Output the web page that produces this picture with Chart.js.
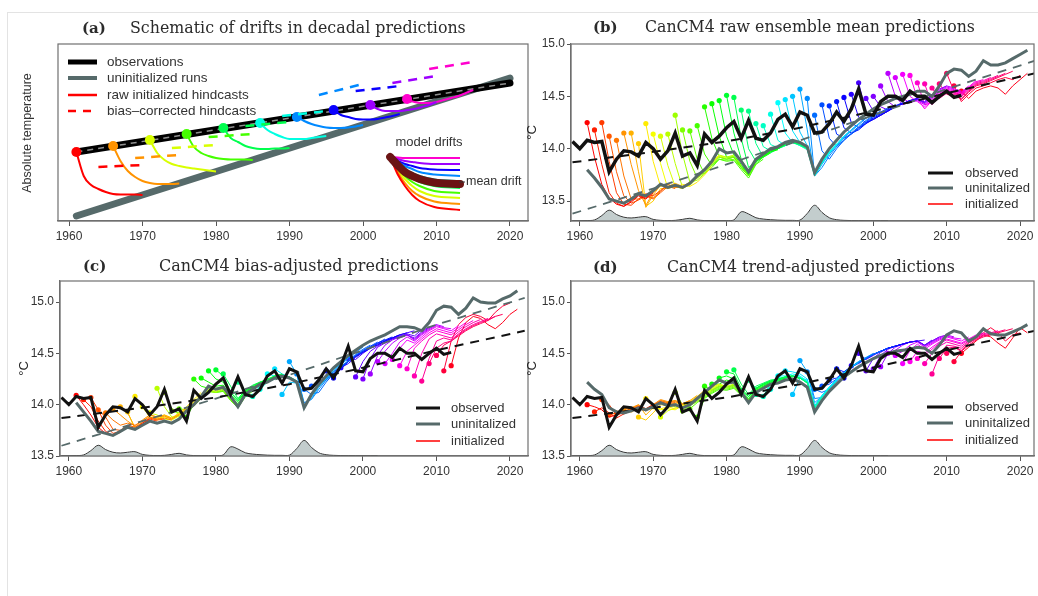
<!DOCTYPE html>
<html>
<head>
<meta charset="utf-8">
<title>CanCM4 decadal prediction drifts</title>
<script src="https://cdn.jsdelivr.net/npm/chart.js@4.4.1/dist/chart.umd.min.js"></script>
<style>
html, body { margin: 0; padding: 0; background: #fff; }
#fig { position: relative; width: 1038px; height: 596px; overflow: hidden; }
#fig canvas { position: absolute; }
#frame { position: absolute; left: 7px; top: 12px; right: -2px; bottom: -2px;
  border-left: 1px solid #e3e3e3; border-top: 1px solid #e3e3e3; }
</style>
</head>
<body>
<div id="fig">
  <div id="frame"></div>
  <canvas id="pa" width="540" height="251" style="left:0;top:0"></canvas>
  <canvas id="pb" width="518" height="251" style="left:520px;top:0"></canvas>
  <canvas id="pc" width="540" height="236" style="left:0;top:250px"></canvas>
  <canvas id="pd" width="518" height="236" style="left:520px;top:250px"></canvas>
</div>
<script>
// ---- panel (a): schematic, arbitrary temperature units ----
const schemEnds = [1961, 2020];
const schemObs = [69, 138];
const schemUninit = [5, 143];
const schemStarts = [1961, 1966, 1971, 1976, 1981, 1986, 1991, 1996, 2001, 2006];
const schemRaw = [
  [69, 45, 36, 32, 29, 27, 26.5, 26.5, 26.5, 26],
  [75, 60, 50, 44, 40, 38, 37, 37, 37, 37.5],
  [81, 68, 61, 57, 55, 53.5, 52.5, 51.5, 50.5, 49.5],
  [87, 74, 68, 65, 63, 62, 61.5, 61.5, 61.5, 61],
  [93, 83, 79, 75, 73, 72, 72, 72.5, 72.5, 73],
  [98, 91, 87, 84, 82, 82, 82, 83, 84, 85],
  [104, 100, 97, 95, 93.5, 93, 93, 93.5, 94.5, 96],
  [111, 106, 104, 102, 101.5, 101.5, 102, 103.5, 105, 107],
  [116, 112, 110, 110, 110, 111, 112, 114, 116, 119],
  [122, 119, 118, 118, 119, 121, 123, 125, 128, 131]
];
const schemCorrYears = [[1964, 1970], [1969, 1975], [1974, 1980], [1979, 1985], [1984, 1990],
  [1989, 1995], [1994, 2000], [1999, 2005], [2004, 2010], [2009, 2015]];
const schemCorr = [[54, 56], [63, 66], [73, 76], [84, 87], [95, 99],
  [105, 110], [126, 137], [130, 135], [138, 145], [152, 159]];
const driftYears = [2003.7, 2004.7, 2005.7, 2006.7, 2007.7, 2009.7, 2013.2];
const driftCurves = [
  [64, 47, 35, 26, 20, 14, 11],
  [64, 49, 38, 30, 25, 19.5, 17],
  [64, 51, 42, 35, 30, 25, 23],
  [64, 53, 45, 39, 35, 30, 28],
  [64, 55, 48, 43, 39, 35, 33],
  [64, 57, 52, 48, 45, 41.5, 40],
  [64, 59, 55, 52, 49, 46.5, 45],
  [64, 60, 57, 55, 53, 51.5, 51],
  [64, 62, 60, 59, 58, 57, 57],
  [64, 63.5, 63, 63, 63, 63, 63]
];
const meanDrift = [64, 56, 49, 45, 42, 38.5, 37];

// ---- panels (b)-(d): global mean temperature, deg C ----
const obsStart = 1959;
const observed = [14.07, 14.00, 14.08, 14.06, 14.07, 13.78, 13.90, 13.98, 13.97, 13.93,
  14.06, 14.00, 13.90, 13.98, 14.15, 13.93, 13.96, 13.84, 14.14, 14.06,
  14.12, 14.20, 14.26, 14.10, 14.27, 14.10, 14.08, 14.15, 14.28, 14.33,
  14.21, 14.35, 14.32, 14.15, 14.16, 14.24, 14.35, 14.26, 14.38, 14.57,
  14.33, 14.32, 14.45, 14.50, 14.50, 14.46, 14.55, 14.50, 14.50, 14.44,
  14.50, 14.55, 14.49, 14.51];

const uninitStart = 1961;
const uninitRaw = [13.80, 13.72, 13.63, 13.52, 13.50, 13.48, 13.52, 13.57, 13.55, 13.60,
  13.66, 13.63, 13.65, 13.63, 13.67, 13.74, 13.80, 13.88, 14.00, 13.96,
  13.97, 13.88, 13.78, 13.90, 13.95, 14.00, 14.02, 14.06, 14.08, 14.06,
  14.02, 13.77, 13.90, 14.00, 14.08, 14.16, 14.22, 14.28, 14.33, 14.38,
  14.42, 14.45, 14.48, 14.50, 14.52, 14.55, 14.55, 14.50, 14.60, 14.72,
  14.76, 14.75, 14.69, 14.74, 14.84, 14.80, 14.80, 14.82, 14.86, 14.90, 14.94];
const uninitBias = [14.02, 13.93, 13.84, 13.74, 13.72, 13.70, 13.74, 13.78, 13.76, 13.80,
  13.84, 13.82, 13.84, 13.82, 13.86, 13.94, 14.00, 14.08, 14.18, 14.15,
  14.17, 14.08, 13.98, 14.10, 14.15, 14.20, 14.22, 14.26, 14.28, 14.26,
  14.22, 13.97, 14.10, 14.20, 14.28, 14.36, 14.42, 14.48, 14.53, 14.58,
  14.62, 14.65, 14.68, 14.72, 14.76, 14.76, 14.75, 14.72, 14.80, 14.92,
  14.96, 14.95, 14.88, 14.94, 15.04, 15.00, 14.99, 14.99, 15.03, 15.06, 15.11];
const uninitTrend = [14.22, 14.15, 14.10, 13.97, 13.93, 13.92, 13.94, 13.97, 13.95, 13.98,
  14.02, 13.99, 14.00, 13.97, 14.00, 14.06, 14.12, 14.18, 14.24, 14.21,
  14.22, 14.12, 14.02, 14.12, 14.16, 14.20, 14.21, 14.24, 14.25, 14.22,
  14.17, 13.93, 14.04, 14.13, 14.20, 14.27, 14.32, 14.37, 14.41, 14.45,
  14.48, 14.50, 14.52, 14.53, 14.54, 14.56, 14.55, 14.50, 14.58, 14.68,
  14.72, 14.70, 14.62, 14.66, 14.74, 14.69, 14.68, 14.68, 14.71, 14.74, 14.78];

// fitted trends
const trendYears = [1959, 1970, 1980, 1990, 2000, 2010, 2022];
const obsTrend = [13.87, 13.97, 14.07, 14.20, 14.36, 14.53, 14.72];
const uninitTrendRaw = [13.38, 13.62, 13.85, 14.08, 14.32, 14.57, 14.84];
const uninitTrendBias = [13.60, 13.84, 14.06, 14.29, 14.53, 14.78, 15.04];

// stratospheric aerosol optical depth
const aodStart = 1959;
const aod = [0.002, 0.002, 0.004, 0.010, 0.050, 0.100, 0.060, 0.035, 0.028, 0.035,
  0.040, 0.015, 0.006, 0.004, 0.006, 0.015, 0.025, 0.010, 0.004, 0.003,
  0.003, 0.004, 0.010, 0.085, 0.065, 0.030, 0.018, 0.012, 0.008, 0.006,
  0.006, 0.008, 0.070, 0.145, 0.080, 0.030, 0.012, 0.006, 0.004, 0.003,
  0.002, 0.002, 0.002, 0.002];

// hindcasts, one per start year 1961-2012, 10 annual values each
const hindFirst = 1961, hindCount = 52;
const rawHind = [
  [14.25, 13.92, 13.66, 13.53, 13.47, 13.45, 13.49, 13.55, 13.52, 13.58],
  [14.18, 13.85, 13.58, 13.48, 13.45, 13.50, 13.56, 13.53, 13.59, 13.65],
  [14.25, 13.88, 13.58, 13.47, 13.46, 13.52, 13.57, 13.55, 13.60, 13.66],
  [14.12, 13.78, 13.55, 13.48, 13.51, 13.55, 13.52, 13.58, 13.64, 13.62],
  [14.08, 13.74, 13.52, 13.52, 13.56, 13.53, 13.59, 13.66, 13.63, 13.64],
  [14.15, 13.85, 13.60, 13.46, 13.58, 13.66, 13.63, 13.66, 13.63, 13.68],
  [14.15, 13.78, 13.44, 13.56, 13.65, 13.64, 13.67, 13.64, 13.68, 13.75],
  [14.05, 13.45, 13.50, 13.62, 13.62, 13.65, 13.63, 13.67, 13.73, 13.80],
  [14.24, 13.88, 13.64, 13.66, 13.63, 13.66, 13.64, 13.68, 13.75, 13.83],
  [14.14, 13.86, 13.62, 13.64, 13.62, 13.67, 13.72, 13.80, 13.88, 13.94],
  [14.12, 13.84, 13.64, 13.62, 13.66, 13.73, 13.80, 13.87, 13.93, 13.92],
  [14.14, 13.86, 13.63, 13.65, 13.72, 13.78, 13.86, 13.94, 13.92, 13.94],
  [14.32, 13.95, 13.68, 13.70, 13.76, 13.85, 13.92, 13.91, 13.93, 13.84],
  [14.18, 13.88, 13.72, 13.77, 13.84, 13.92, 13.90, 13.92, 13.83, 13.74],
  [14.17, 13.90, 13.76, 13.82, 13.90, 13.89, 13.90, 13.82, 13.74, 13.86],
  [14.22, 13.95, 13.84, 13.90, 13.88, 13.89, 13.80, 13.72, 13.85, 13.90],
  [14.40, 14.10, 13.92, 13.90, 13.92, 13.82, 13.74, 13.86, 13.92, 13.96],
  [14.43, 14.12, 13.92, 13.92, 13.84, 13.75, 13.88, 13.93, 13.97, 13.99],
  [14.46, 14.12, 13.94, 13.85, 13.76, 13.88, 13.93, 13.98, 14.00, 14.04],
  [14.51, 14.15, 13.90, 13.78, 13.88, 13.93, 13.98, 14.00, 14.05, 14.07],
  [14.49, 14.10, 13.82, 13.88, 13.92, 13.97, 14.00, 14.05, 14.06, 14.05],
  [14.37, 14.00, 13.88, 13.92, 13.97, 14.00, 14.04, 14.06, 14.04, 14.00],
  [14.36, 14.05, 13.92, 13.96, 14.00, 14.03, 14.06, 14.04, 14.01, 13.76],
  [14.24, 14.02, 13.98, 14.00, 14.03, 14.06, 14.03, 14.00, 13.75, 13.88],
  [14.22, 14.04, 14.01, 14.03, 14.06, 14.03, 13.99, 13.74, 13.87, 13.98],
  [14.33, 14.08, 14.03, 14.06, 14.04, 14.00, 13.75, 13.87, 13.97, 14.05],
  [14.44, 14.15, 14.06, 14.05, 14.01, 13.76, 13.86, 13.96, 14.04, 14.12],
  [14.47, 14.17, 14.06, 14.02, 13.76, 13.87, 13.96, 14.04, 14.12, 14.18],
  [14.50, 14.16, 14.03, 13.78, 13.86, 13.96, 14.04, 14.12, 14.18, 14.24],
  [14.57, 14.18, 13.74, 13.85, 13.95, 14.03, 14.11, 14.18, 14.24, 14.30],
  [14.48, 13.74, 13.82, 13.93, 14.02, 14.10, 14.17, 14.23, 14.29, 14.34],
  [14.32, 13.98, 13.90, 14.00, 14.08, 14.15, 14.21, 14.27, 14.32, 14.36],
  [14.42, 14.10, 14.02, 14.08, 14.14, 14.20, 14.26, 14.31, 14.35, 14.39],
  [14.41, 14.14, 14.10, 14.14, 14.19, 14.25, 14.30, 14.34, 14.38, 14.42],
  [14.45, 14.20, 14.15, 14.18, 14.24, 14.29, 14.33, 14.37, 14.41, 14.44],
  [14.49, 14.25, 14.20, 14.24, 14.28, 14.32, 14.36, 14.40, 14.43, 14.46],
  [14.52, 14.30, 14.25, 14.28, 14.32, 14.36, 14.40, 14.43, 14.46, 14.48],
  [14.63, 14.35, 14.28, 14.32, 14.36, 14.40, 14.43, 14.46, 14.48, 14.50],
  [14.48, 14.36, 14.32, 14.36, 14.40, 14.43, 14.45, 14.47, 14.45, 14.52],
  [14.50, 14.40, 14.37, 14.40, 14.43, 14.45, 14.47, 14.44, 14.51, 14.58],
  [14.60, 14.45, 14.40, 14.43, 14.46, 14.48, 14.44, 14.50, 14.57, 14.60],
  [14.72, 14.50, 14.42, 14.45, 14.47, 14.43, 14.49, 14.56, 14.60, 14.58],
  [14.68, 14.48, 14.44, 14.46, 14.42, 14.48, 14.55, 14.59, 14.57, 14.55],
  [14.71, 14.50, 14.45, 14.40, 14.47, 14.54, 14.58, 14.56, 14.54, 14.60],
  [14.70, 14.48, 14.38, 14.46, 14.53, 14.57, 14.55, 14.53, 14.59, 14.65],
  [14.63, 14.42, 14.44, 14.52, 14.56, 14.54, 14.52, 14.58, 14.64, 14.66],
  [14.62, 14.42, 14.50, 14.55, 14.53, 14.51, 14.57, 14.63, 14.65, 14.68],
  [14.58, 14.48, 14.53, 14.52, 14.50, 14.56, 14.62, 14.64, 14.67, 14.70],
  [14.62, 14.52, 14.50, 14.48, 14.55, 14.61, 14.63, 14.66, 14.69, 14.72],
  [14.72, 14.55, 14.47, 14.54, 14.60, 14.62, 14.65, 14.68, 14.71, 14.74],
  [14.60, 14.45, 14.52, 14.58, 14.60, 14.63, 14.66, 14.68, 14.66, 14.70],
  [14.55, 14.48, 14.55, 14.58, 14.60, 14.58, 14.52, 14.60, 14.66, 14.72]
];
const biasHind = [
  [14.09, 14.00, 13.90, 13.78, 13.72, 13.70, 13.74, 13.79, 13.76, 13.81],
  [14.05, 13.98, 13.84, 13.74, 13.70, 13.73, 13.79, 13.76, 13.82, 13.86],
  [14.07, 13.95, 13.80, 13.72, 13.74, 13.78, 13.76, 13.80, 13.86, 13.84],
  [13.95, 13.88, 13.76, 13.75, 13.80, 13.78, 13.82, 13.87, 13.85, 13.86],
  [13.92, 13.85, 13.80, 13.82, 13.80, 13.84, 13.88, 13.86, 13.87, 13.85],
  [13.96, 13.90, 13.84, 13.79, 13.85, 13.90, 13.88, 13.89, 13.86, 13.90],
  [13.98, 13.92, 13.78, 13.83, 13.90, 13.88, 13.90, 13.87, 13.91, 13.97],
  [13.93, 13.76, 13.80, 13.87, 13.86, 13.89, 13.86, 13.90, 13.96, 14.03],
  [14.08, 13.98, 13.88, 13.87, 13.90, 13.87, 13.92, 13.98, 14.05, 14.12],
  [13.98, 13.92, 13.85, 13.88, 13.86, 13.90, 13.96, 14.03, 14.10, 14.16],
  [13.92, 13.90, 13.86, 13.85, 13.89, 13.95, 14.02, 14.08, 14.15, 14.14],
  [14.16, 13.98, 13.88, 13.89, 13.94, 14.00, 14.07, 14.14, 14.13, 14.16],
  [14.12, 13.96, 13.90, 13.93, 13.99, 14.06, 14.13, 14.12, 14.15, 14.06],
  [13.94, 13.92, 13.94, 13.99, 14.06, 14.13, 14.12, 14.14, 14.05, 13.97],
  [13.96, 13.95, 13.99, 14.06, 14.13, 14.12, 14.13, 14.05, 13.97, 14.08],
  [13.88, 14.00, 14.07, 14.14, 14.12, 14.13, 14.04, 13.97, 14.08, 14.13],
  [14.25, 14.18, 14.16, 14.16, 14.16, 14.06, 13.99, 14.10, 14.15, 14.19],
  [14.26, 14.22, 14.18, 14.19, 14.08, 14.01, 14.12, 14.16, 14.20, 14.22],
  [14.33, 14.25, 14.22, 14.10, 14.03, 14.13, 14.17, 14.21, 14.23, 14.27],
  [14.34, 14.28, 14.12, 14.05, 14.14, 14.18, 14.22, 14.24, 14.28, 14.30],
  [14.30, 14.18, 14.06, 14.14, 14.19, 14.22, 14.25, 14.28, 14.29, 14.27],
  [14.12, 14.04, 14.12, 14.17, 14.21, 14.24, 14.27, 14.29, 14.27, 14.23],
  [14.22, 14.14, 14.17, 14.21, 14.24, 14.27, 14.29, 14.27, 14.23, 13.99],
  [14.10, 14.15, 14.19, 14.23, 14.26, 14.28, 14.26, 14.23, 13.98, 14.10],
  [14.08, 14.18, 14.22, 14.25, 14.28, 14.26, 14.22, 13.97, 14.09, 14.19],
  [14.15, 14.22, 14.25, 14.28, 14.26, 14.22, 13.98, 14.09, 14.19, 14.27],
  [14.30, 14.28, 14.29, 14.27, 14.23, 13.98, 14.10, 14.20, 14.28, 14.35],
  [14.35, 14.30, 14.27, 14.22, 13.97, 14.09, 14.19, 14.27, 14.35, 14.41],
  [14.10, 14.22, 14.21, 13.98, 14.08, 14.18, 14.26, 14.34, 14.40, 14.46],
  [14.42, 14.30, 14.00, 14.06, 14.17, 14.25, 14.33, 14.40, 14.46, 14.52],
  [14.30, 14.02, 14.05, 14.15, 14.24, 14.32, 14.39, 14.45, 14.51, 14.56],
  [14.15, 14.10, 14.12, 14.22, 14.30, 14.37, 14.43, 14.49, 14.54, 14.58],
  [14.18, 14.20, 14.24, 14.30, 14.36, 14.42, 14.48, 14.53, 14.57, 14.61],
  [14.22, 14.26, 14.32, 14.37, 14.42, 14.48, 14.52, 14.56, 14.60, 14.64],
  [14.33, 14.30, 14.36, 14.42, 14.47, 14.52, 14.56, 14.60, 14.63, 14.66],
  [14.26, 14.35, 14.42, 14.47, 14.51, 14.55, 14.59, 14.62, 14.65, 14.68],
  [14.36, 14.40, 14.46, 14.51, 14.55, 14.58, 14.62, 14.65, 14.68, 14.70],
  [14.45, 14.44, 14.50, 14.55, 14.58, 14.62, 14.65, 14.68, 14.70, 14.72],
  [14.27, 14.42, 14.52, 14.57, 14.61, 14.64, 14.67, 14.69, 14.67, 14.73],
  [14.25, 14.45, 14.56, 14.60, 14.64, 14.66, 14.68, 14.65, 14.71, 14.76],
  [14.30, 14.48, 14.58, 14.63, 14.66, 14.68, 14.64, 14.70, 14.75, 14.78],
  [14.42, 14.52, 14.60, 14.65, 14.68, 14.63, 14.69, 14.74, 14.78, 14.76],
  [14.40, 14.50, 14.61, 14.66, 14.62, 14.68, 14.73, 14.77, 14.75, 14.74],
  [14.44, 14.55, 14.63, 14.60, 14.66, 14.72, 14.76, 14.74, 14.72, 14.77],
  [14.38, 14.52, 14.58, 14.64, 14.70, 14.74, 14.72, 14.70, 14.75, 14.80],
  [14.35, 14.55, 14.62, 14.68, 14.72, 14.70, 14.68, 14.73, 14.78, 14.82],
  [14.28, 14.50, 14.64, 14.69, 14.67, 14.65, 14.71, 14.76, 14.80, 14.83],
  [14.23, 14.45, 14.62, 14.65, 14.63, 14.69, 14.74, 14.78, 14.81, 14.84],
  [14.40, 14.55, 14.60, 14.62, 14.68, 14.73, 14.77, 14.80, 14.83, 14.86],
  [14.48, 14.58, 14.62, 14.67, 14.72, 14.76, 14.79, 14.82, 14.86, 14.88],
  [14.33, 14.62, 14.78, 14.85, 14.88, 14.86, 14.82, 14.90, 14.96, 14.99],
  [14.38, 14.65, 14.80, 14.86, 14.84, 14.78, 14.74, 14.80, 14.88, 14.93]
];
const trendHind = [
  [14.00, 13.98, 13.95, 13.88, 13.90, 13.93, 13.95, 13.98, 13.96, 14.00],
  [13.93, 13.97, 13.92, 13.87, 13.91, 13.94, 13.97, 13.95, 13.99, 14.03],
  [14.05, 14.00, 13.90, 13.92, 13.95, 13.97, 13.94, 13.98, 14.02, 14.00],
  [13.90, 13.92, 13.91, 13.95, 13.98, 13.95, 13.99, 14.03, 14.01, 14.02],
  [13.92, 13.94, 13.96, 13.99, 13.96, 14.00, 14.04, 14.02, 14.03, 14.00],
  [13.96, 13.97, 14.00, 13.95, 14.00, 14.05, 14.03, 14.04, 14.01, 14.04],
  [13.95, 14.00, 13.90, 13.97, 14.04, 14.02, 14.04, 14.01, 14.04, 14.09],
  [13.88, 13.85, 13.92, 14.00, 13.99, 14.02, 14.00, 14.03, 14.08, 14.14],
  [14.06, 13.98, 13.96, 13.98, 13.96, 14.00, 14.02, 14.07, 14.13, 14.18],
  [13.98, 13.95, 13.96, 13.95, 13.99, 14.02, 14.07, 14.12, 14.17, 14.20],
  [13.88, 13.94, 13.97, 13.98, 14.02, 14.06, 14.11, 14.16, 14.20, 14.18],
  [14.00, 13.98, 13.97, 14.01, 14.05, 14.10, 14.15, 14.19, 14.18, 14.20],
  [14.12, 14.00, 14.00, 14.04, 14.09, 14.14, 14.18, 14.17, 14.19, 14.12],
  [13.94, 13.99, 14.03, 14.08, 14.13, 14.17, 14.16, 14.18, 14.11, 14.05],
  [13.96, 14.02, 14.07, 14.12, 14.16, 14.15, 14.17, 14.10, 14.04, 14.13],
  [13.88, 14.06, 14.11, 14.15, 14.14, 14.16, 14.09, 14.03, 14.12, 14.16],
  [14.18, 14.14, 14.18, 14.17, 14.19, 14.10, 14.04, 14.13, 14.17, 14.20],
  [14.20, 14.20, 14.24, 14.22, 14.12, 14.05, 14.14, 14.18, 14.21, 14.22],
  [14.26, 14.28, 14.25, 14.14, 14.06, 14.15, 14.19, 14.22, 14.23, 14.25],
  [14.32, 14.30, 14.16, 14.08, 14.16, 14.20, 14.23, 14.24, 14.26, 14.27],
  [14.34, 14.20, 14.10, 14.18, 14.21, 14.24, 14.25, 14.27, 14.28, 14.25],
  [14.14, 14.08, 14.16, 14.20, 14.23, 14.25, 14.27, 14.28, 14.26, 14.21],
  [14.24, 14.16, 14.20, 14.23, 14.25, 14.27, 14.28, 14.26, 14.22, 13.98],
  [14.10, 14.18, 14.22, 14.25, 14.27, 14.28, 14.26, 14.22, 13.97, 14.08],
  [14.08, 14.21, 14.24, 14.26, 14.28, 14.26, 14.21, 13.96, 14.07, 14.16],
  [14.15, 14.24, 14.26, 14.28, 14.27, 14.22, 13.97, 14.07, 14.16, 14.23],
  [14.28, 14.28, 14.30, 14.28, 14.23, 13.98, 14.08, 14.17, 14.24, 14.30],
  [14.33, 14.32, 14.30, 14.25, 13.98, 14.09, 14.17, 14.24, 14.31, 14.36],
  [14.10, 14.26, 14.24, 13.99, 14.09, 14.17, 14.25, 14.31, 14.37, 14.41],
  [14.43, 14.32, 14.02, 14.08, 14.17, 14.24, 14.31, 14.37, 14.42, 14.46],
  [14.32, 14.06, 14.07, 14.16, 14.24, 14.31, 14.37, 14.42, 14.46, 14.50],
  [14.15, 14.12, 14.15, 14.23, 14.30, 14.36, 14.41, 14.45, 14.49, 14.52],
  [14.18, 14.20, 14.25, 14.31, 14.36, 14.41, 14.45, 14.49, 14.52, 14.55],
  [14.24, 14.26, 14.32, 14.37, 14.41, 14.45, 14.49, 14.52, 14.55, 14.57],
  [14.35, 14.32, 14.37, 14.41, 14.45, 14.49, 14.52, 14.55, 14.57, 14.59],
  [14.26, 14.36, 14.41, 14.45, 14.49, 14.52, 14.55, 14.57, 14.59, 14.61],
  [14.38, 14.40, 14.45, 14.49, 14.52, 14.55, 14.57, 14.59, 14.61, 14.62],
  [14.50, 14.44, 14.48, 14.52, 14.55, 14.57, 14.59, 14.61, 14.62, 14.63],
  [14.33, 14.45, 14.51, 14.55, 14.57, 14.59, 14.61, 14.62, 14.58, 14.63],
  [14.35, 14.48, 14.54, 14.57, 14.59, 14.61, 14.62, 14.58, 14.62, 14.66],
  [14.37, 14.50, 14.56, 14.59, 14.61, 14.62, 14.58, 14.62, 14.66, 14.68],
  [14.50, 14.53, 14.58, 14.61, 14.62, 14.57, 14.61, 14.65, 14.68, 14.66],
  [14.48, 14.52, 14.58, 14.61, 14.56, 14.60, 14.64, 14.67, 14.65, 14.64],
  [14.40, 14.53, 14.59, 14.54, 14.59, 14.63, 14.66, 14.64, 14.62, 14.66],
  [14.42, 14.52, 14.50, 14.56, 14.61, 14.64, 14.62, 14.60, 14.64, 14.68],
  [14.45, 14.48, 14.54, 14.60, 14.63, 14.61, 14.59, 14.63, 14.67, 14.70],
  [14.40, 14.50, 14.57, 14.61, 14.59, 14.57, 14.62, 14.66, 14.69, 14.71],
  [14.30, 14.48, 14.58, 14.57, 14.55, 14.61, 14.65, 14.68, 14.70, 14.72],
  [14.45, 14.55, 14.56, 14.53, 14.60, 14.64, 14.67, 14.69, 14.71, 14.73],
  [14.50, 14.56, 14.52, 14.58, 14.63, 14.66, 14.68, 14.70, 14.72, 14.74],
  [14.42, 14.52, 14.60, 14.65, 14.70, 14.75, 14.70, 14.62, 14.68, 14.70],
  [14.50, 14.56, 14.62, 14.68, 14.66, 14.60, 14.55, 14.65, 14.75, 14.70]
];

const yearTicks = [1960, 1970, 1980, 1990, 2000, 2010, 2020];
const tempTicks = [13.5, 14.0, 14.5, 15.0];

const legendA = ['observations', 'uninitialized runs', 'raw initialized hindcasts', 'bias\u2013corrected hindcasts'];
const legendB = ['observed', 'uninitalized', 'initialized'];

// ---- helpers ----
const SANS = '"Liberation Sans", Arial, sans-serif';
const SERIF = '"DejaVu Serif", serif';
const OBS_COL = '#111111';
const UNI_COL = '#566a6a';

const pts = (xs, ys) => ys.map((y, i) => ({ x: xs[i], y }));
const run = (start, ys) => ys.map((y, i) => ({ x: start + i, y }));
const rainbow = s => `hsl(${((s - hindFirst) / hindCount) * 360}, 100%, 50%)`;

function xAxis(min, max) {
  return {
    type: 'linear', min, max,
    afterBuildTicks: s => { s.ticks = yearTicks.map(v => ({ value: v })); },
    afterFit: s => { s.height = 30; },
    ticks: { callback: v => String(v), color: '#333', font: { family: SANS, size: 12 }, padding: 3, maxRotation: 0, autoSkip: false },
    grid: { drawOnChartArea: false, drawTicks: true, tickLength: 5, color: '#555' },
    border: { color: '#6e6e6e', width: 1.2 }
  };
}

function yAxis(min, max, width) {
  return {
    type: 'linear', min, max, position: 'left',
    afterBuildTicks: s => { s.ticks = tempTicks.map(v => ({ value: v })); },
    afterFit: s => { s.width = width; },
    ticks: { callback: v => v.toFixed(1), color: '#333', font: { family: SANS, size: 12 }, padding: 2 },
    grid: { drawOnChartArea: false, drawTicks: true, tickLength: 4, color: '#555' },
    border: { color: '#6e6e6e', width: 1.2 },
    title: { display: true, text: '\u00b0C', color: '#222', font: { family: SANS, size: 13 }, padding: { top: 5, bottom: 0 } }
  };
}

// frame, panel title, legend and free text
const decor = {
  id: 'decor',
  afterDraw(chart, _args, o) {
    const { ctx, chartArea: a } = chart;
    ctx.save();
    ctx.strokeStyle = '#707070';
    ctx.lineWidth = 1.2;
    ctx.strokeRect(a.left, a.top, a.right - a.left, a.bottom - a.top);

    ctx.fillStyle = '#2b2b2b';
    ctx.textBaseline = 'middle';
    ctx.textAlign = 'left';
    ctx.font = 'bold 15px ' + SERIF;
    ctx.fillText(o.tag, o.tagX, o.titleY);
    ctx.font = '15px ' + SERIF;
    const size = 15 * o.titleW / ctx.measureText(o.title).width;
    ctx.font = size.toFixed(2) + 'px ' + SERIF;
    ctx.fillText(o.title, o.titleX, o.titleY);

    const lg = o.legend;
    ctx.font = lg.font + 'px ' + SANS;
    lg.items.forEach((it, i) => {
      const y = lg.rows[i];
      ctx.beginPath();
      ctx.strokeStyle = it.color;
      ctx.lineWidth = it.width;
      ctx.setLineDash(it.dash || []);
      ctx.moveTo(lg.x, y);
      ctx.lineTo(lg.x + lg.len, y);
      ctx.stroke();
      ctx.setLineDash([]);
      ctx.fillStyle = '#333';
      ctx.fillText(it.label, lg.textX, y);
    });

    (o.notes || []).forEach(n => {
      ctx.save();
      ctx.font = n.size + 'px ' + SANS;
      ctx.fillStyle = '#333';
      ctx.translate(n.x, n.y);
      ctx.rotate(n.rot || 0);
      ctx.textAlign = n.align || 'left';
      ctx.fillText(n.text, 0, 0);
      ctx.restore();
    });
    (o.marks || []).forEach(m => {
      ctx.beginPath();
      ctx.strokeStyle = '#333';
      ctx.lineWidth = 1;
      ctx.moveTo(m[0], m[1]);
      ctx.lineTo(m[2], m[3]);
      ctx.stroke();
    });
    ctx.restore();
  }
};

function baseOptions(padding, scales, decorOpts) {
  return {
    responsive: false, animation: false, devicePixelRatio: 1, events: [],
    layout: { padding },
    elements: { point: { radius: 0 }, line: { tension: 0 } },
    scales,
    plugins: { legend: { display: false }, tooltip: { enabled: false }, decor: decorOpts }
  };
}

// ---- panel (a) ----
function schematic() {
  const sets = [];
  sets.push({ data: pts(schemEnds, schemUninit), borderColor: UNI_COL, borderWidth: 7, borderCapStyle: 'round', order: 9 });
  sets.push({ data: pts(schemEnds, schemObs), borderColor: '#000', borderWidth: 7, borderCapStyle: 'round', order: 8 });
  sets.push({ data: pts(schemEnds, schemObs), borderColor: '#8f8f8f', borderWidth: 1.5, borderDash: [6, 5], order: 7 });
  schemStarts.forEach((s, i) => {
    const col = rainbow(s);
    sets.push({
      data: run(s, schemRaw[i]), borderColor: col, backgroundColor: col, borderWidth: 2,
      cubicInterpolationMode: 'monotone',
      pointRadius: c => c.dataIndex === 0 ? 5 : 0, pointBorderWidth: 0, order: 5
    });
    sets.push({ data: pts(schemCorrYears[i], schemCorr[i]), borderColor: col, borderWidth: 2.5, borderDash: [9, 7], order: 4 });
    sets.push({ data: pts(driftYears, driftCurves[i]), borderColor: col, borderWidth: 2, cubicInterpolationMode: 'monotone', order: 3 });
  });
  sets.push({ data: pts(driftYears, meanDrift), borderColor: '#6b1414', borderWidth: 8, borderCapStyle: 'round', cubicInterpolationMode: 'monotone', order: 2 });

  new Chart(document.getElementById('pa'), {
    type: 'line',
    data: { datasets: sets },
    options: baseOptions(
      { left: 58, right: 12, top: 44, bottom: 0 },
      { x: xAxis(1958.5, 2022.45), y: { type: 'linear', display: false, min: 0, max: 177 } },
      {
        tag: '(a)', tagX: 82, title: 'Schematic of drifts in decadal predictions', titleX: 130, titleW: 336, titleY: 29,
        legend: {
          x: 68, len: 29, textX: 107, rows: [62, 78, 95, 111], font: 13.5,
          items: [
            { label: legendA[0], color: '#000', width: 5 },
            { label: legendA[1], color: UNI_COL, width: 4 },
            { label: legendA[2], color: '#ff0000', width: 2.5 },
            { label: legendA[3], color: '#ff0000', width: 2.5, dash: [8, 7] }
          ]
        },
        notes: [
          { text: 'model drifts', x: 429, y: 142, size: 13, align: 'center' },
          { text: 'mean drift', x: 466, y: 182, size: 12.5 },
          { text: 'Absolute temperature', x: 28, y: 133, size: 12.5, align: 'center', rot: -Math.PI / 2 }
        ],
        marks: [[459, 182, 465, 182]]
      }
    ),
    plugins: [decor]
  });
}

// ---- panels (b)-(d) ----
function prediction(id, hind, uninit, greyTrend, frame) {
  const sets = [];
  sets.push({ data: run(obsStart, observed), borderColor: OBS_COL, borderWidth: frame.obsWidth, order: 0 });
  sets.push({ data: run(uninitStart, uninit), borderColor: UNI_COL, borderWidth: 3, order: 1 });
  sets.push({ data: pts(trendYears, obsTrend), borderColor: '#111', borderWidth: 2, borderDash: [9, 7], order: 2 });
  if (greyTrend) {
    sets.push({ data: pts(trendYears, greyTrend), borderColor: UNI_COL, borderWidth: 1.8, borderDash: [9, 7], order: 3 });
  }
  hind.forEach((vals, i) => {
    const s = hindFirst + i;
    const col = rainbow(s);
    sets.push({
      data: run(s, vals), borderColor: col, backgroundColor: col, borderWidth: 1,
      pointRadius: c => c.dataIndex === 0 ? 2.6 : 0, pointBorderWidth: 0, order: 5
    });
  });
  sets.push({
    data: run(aodStart, aod), yAxisID: 'y2', borderColor: '#3a3a3a', borderWidth: 1,
    backgroundColor: '#c3cdcd', fill: 'start', tension: 0.35, order: 9
  });

  new Chart(document.getElementById(id), {
    type: 'line',
    data: { datasets: sets },
    options: baseOptions(
      frame.padding,
      {
        x: xAxis(frame.xmin, frame.xmax),
        y: yAxis(frame.ymin, frame.ymax, frame.yWidth),
        y2: { type: 'linear', display: false, min: 0, max: 1.63 }
      },
      {
        tag: frame.tag, tagX: frame.tagX, title: frame.title, titleX: frame.titleX, titleW: frame.titleW, titleY: frame.titleY,
        legend: {
          x: frame.legX, len: frame.legLen, textX: frame.legText, rows: frame.legRows, font: 13,
          items: [
            { label: legendB[0], color: OBS_COL, width: 3 },
            { label: legendB[1], color: UNI_COL, width: 3 },
            { label: legendB[2], color: '#ff0000', width: 1.5 }
          ]
        }
      }
    ),
    plugins: [decor]
  });
}

schematic();

prediction('pb', rawHind, uninitRaw, uninitTrendRaw, {
  padding: { left: 0, right: 2, top: 44, bottom: 0 }, yWidth: 51,
  xmin: 1958.8, xmax: 2021.9, ymin: 13.31, ymax: 15.0, obsWidth: 3.5,
  tag: '(b)', tagX: 73, title: 'CanCM4 raw ensemble mean predictions', titleX: 125, titleW: 330, titleY: 28,
  legX: 408, legLen: 25, legText: 445, legRows: [173, 188, 204]
});

prediction('pc', biasHind, uninitBias, uninitTrendBias, {
  padding: { left: 12, right: 12, top: 31, bottom: 0 }, yWidth: 48,
  xmin: 1958.8, xmax: 2022.45, ymin: 13.5, ymax: 15.205, obsWidth: 3,
  tag: '(c)', tagX: 83, title: 'CanCM4 bias-adjusted predictions', titleX: 159, titleW: 280, titleY: 17,
  legX: 416, legLen: 24, legText: 451, legRows: [158, 174, 191]
});

prediction('pd', trendHind, uninitTrend, null, {
  padding: { left: 0, right: 2, top: 31, bottom: 0 }, yWidth: 51,
  xmin: 1958.8, xmax: 2021.9, ymin: 13.5, ymax: 15.205, obsWidth: 3,
  tag: '(d)', tagX: 73, title: 'CanCM4 trend-adjusted predictions', titleX: 147, titleW: 288, titleY: 18,
  legX: 407, legLen: 26, legText: 445, legRows: [157, 173, 190]
});
</script>
</body>
</html>
